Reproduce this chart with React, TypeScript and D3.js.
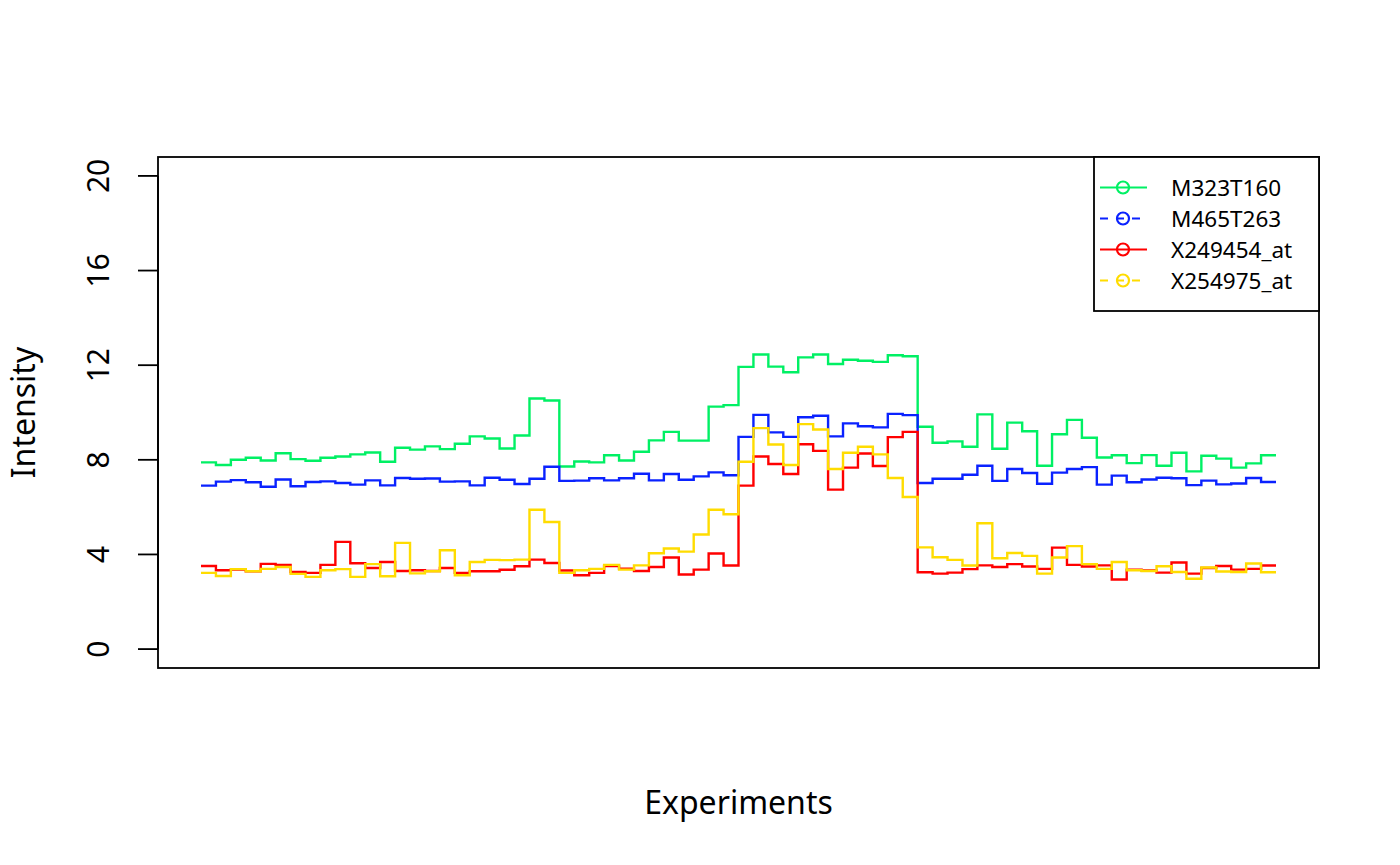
import React from "react";
import * as d3 from "d3";

const m323t160 = [
  7.89, 7.78, 8.0, 8.09, 7.97, 8.28, 8.03, 7.96, 8.09, 8.14, 8.23, 8.31, 7.92, 8.51, 8.43,
  8.57, 8.45, 8.68, 8.99, 8.9, 8.48, 9.03, 10.59, 10.51, 7.72, 7.93, 7.89, 8.19, 7.97,
  8.34, 8.82, 9.18, 8.81, 8.81, 10.25, 10.31, 11.93, 12.45, 11.94, 11.7, 12.33, 12.45, 12.05, 12.23,
  12.19, 12.14, 12.42, 12.38, 9.4, 8.72, 8.78, 8.55, 9.92, 8.47, 9.57, 9.21, 7.75, 9.08,
  9.69, 8.93, 8.1, 8.19, 7.86, 8.2, 7.75, 8.3, 7.51, 8.17, 8.05, 7.67, 7.85, 8.19, 8.19,
];
const m465t263 = [
  6.91, 7.08, 7.14, 7.05, 6.86, 7.17, 6.88, 7.06, 7.09, 7.02, 6.95, 7.13, 6.92, 7.23, 7.2,
  7.21, 7.08, 7.09, 6.92, 7.24, 7.16, 6.98, 7.2, 7.71, 7.11, 7.12, 7.22, 7.13, 7.22,
  7.41, 7.13, 7.4, 7.16, 7.3, 7.47, 7.35, 8.97, 9.9, 9.16, 8.97, 9.8, 9.86, 8.99, 9.54,
  9.42, 9.37, 9.94, 9.89, 7.02, 7.2, 7.2, 7.37, 7.75, 7.11, 7.61, 7.44, 6.99, 7.46,
  7.61, 7.69, 6.95, 7.33, 7.05, 7.17, 7.24, 7.22, 6.93, 7.12, 6.96, 7.0, 7.23, 7.06, 7.06,
];
const x249454 = [
  3.51, 3.33, 3.36, 3.29, 3.6, 3.56, 3.26, 3.22, 3.56, 4.53, 3.63, 3.43, 3.68, 3.3, 3.33,
  3.3, 3.43, 3.22, 3.29, 3.29, 3.35, 3.5, 3.78, 3.64, 3.32, 3.12, 3.22, 3.51, 3.4,
  3.3, 3.47, 3.87, 3.15, 3.36, 4.04, 3.53, 6.91, 8.14, 7.82, 7.4, 8.66, 8.38, 6.74, 7.67,
  8.27, 7.74, 8.96, 9.18, 3.25, 3.19, 3.23, 3.38, 3.54, 3.47, 3.59, 3.49, 3.39, 4.29,
  3.56, 3.49, 3.54, 2.94, 3.36, 3.32, 3.23, 3.66, 3.19, 3.43, 3.51, 3.36, 3.39, 3.53, 3.53,
];
const x254975 = [
  3.22, 3.09, 3.38, 3.29, 3.39, 3.47, 3.18, 3.05, 3.33, 3.38, 3.05, 3.59, 3.08, 4.49, 3.2,
  3.29, 4.18, 3.12, 3.68, 3.77, 3.76, 3.78, 5.89, 5.37, 3.22, 3.33, 3.39, 3.56, 3.36,
  3.54, 4.05, 4.25, 4.12, 4.84, 5.89, 5.7, 7.92, 9.34, 8.65, 7.78, 9.51, 9.28, 7.61, 8.3,
  8.55, 8.23, 7.23, 6.43, 4.3, 3.88, 3.77, 3.53, 5.32, 3.84, 4.06, 3.94, 3.19, 3.87,
  4.35, 3.59, 3.39, 3.68, 3.33, 3.3, 3.5, 3.26, 2.97, 3.45, 3.28, 3.26, 3.62, 3.25, 3.25,
];

const seriesNames = ["M323T160", "M465T263", "X249454_at", "X254975_at"];
const seriesColors = ["#00F064", "#0A22FF", "#FF0000", "#FFDC00"];
const legendDashed = [false, true, false, true];
const yTicks = [0, 4, 8, 12, 16, 20];

export default function App() {
  const W = 1400,
    H = 865;
  const left = 158,
    right = 1319,
    top = 157,
    bottom = 668;
  const font = "'Noto Sans', 'Open Sans', sans-serif";

  const allSeries = [m323t160, m465t263, x249454, x254975];
  const n = m323t160.length;
  const xPad = (n - 1) * 0.04;

  const x = d3.scaleLinear().domain([1 - xPad, n + xPad]).range([left, right]);
  const y = d3.scaleLinear().domain([-0.8, 20.8]).range([bottom, top]);

  const line = d3
    .line<number>()
    .x((d, i) => x(i + 1))
    .y((d) => y(d))
    .curve(d3.curveStepAfter);

  const legX = 1094,
    legY = 157,
    legW = right - legX,
    legH = 154;

  return (
    <svg
      width={W}
      height={H}
      style={{ position: "absolute", left: 0, top: 0, background: "#fff" }}
      fontFamily={font}
    >
      {allSeries.map((s, k) => (
        <path
          key={seriesNames[k]}
          d={line(s) || ""}
          fill="none"
          stroke={seriesColors[k]}
          strokeWidth={2.4}
        />
      ))}

      {/* plot box */}
      <rect
        x={left}
        y={top}
        width={right - left}
        height={bottom - top}
        fill="none"
        stroke="#000"
        strokeWidth={1.8}
      />

      {/* y axis */}
      <line x1={left} x2={left} y1={y(0)} y2={y(20)} stroke="#000" strokeWidth={1.8} />
      {yTicks.map((t) => (
        <g key={t}>
          <line x1={left - 20} x2={left} y1={y(t)} y2={y(t)} stroke="#000" strokeWidth={1.8} />
          <text
            transform={`translate(${97}, ${y(t)}) rotate(-90)`}
            textAnchor="middle"
            dominantBaseline="central"
            fontSize={30}
          >
            {t}
          </text>
        </g>
      ))}

      <text
        transform={`translate(${22}, ${(top + bottom) / 2}) rotate(-90)`}
        textAnchor="middle"
        dominantBaseline="central"
        fontSize={32}
      >
        Intensity
      </text>
      <text x={(left + right) / 2} y={814} textAnchor="middle" fontSize={32}>
        Experiments
      </text>

      {/* legend */}
      <rect x={legX} y={legY} width={legW} height={legH} fill="#fff" stroke="#000" strokeWidth={1.8} />
      {seriesNames.map((name, k) => {
        const cy = 187.5 + k * 31;
        return (
          <g key={name}>
            <line
              x1={1100}
              x2={1147}
              y1={cy}
              y2={cy}
              stroke={seriesColors[k]}
              strokeWidth={2.2}
              strokeDasharray={legendDashed[k] ? "8 8" : undefined}
            />
            <circle cx={1123} cy={cy} r={6} fill="none" stroke={seriesColors[k]} strokeWidth={2.2} />
            <text x={1171} y={cy} dominantBaseline="central" fontSize={22.5}>
              {name}
            </text>
          </g>
        );
      })}
    </svg>
  );
}
